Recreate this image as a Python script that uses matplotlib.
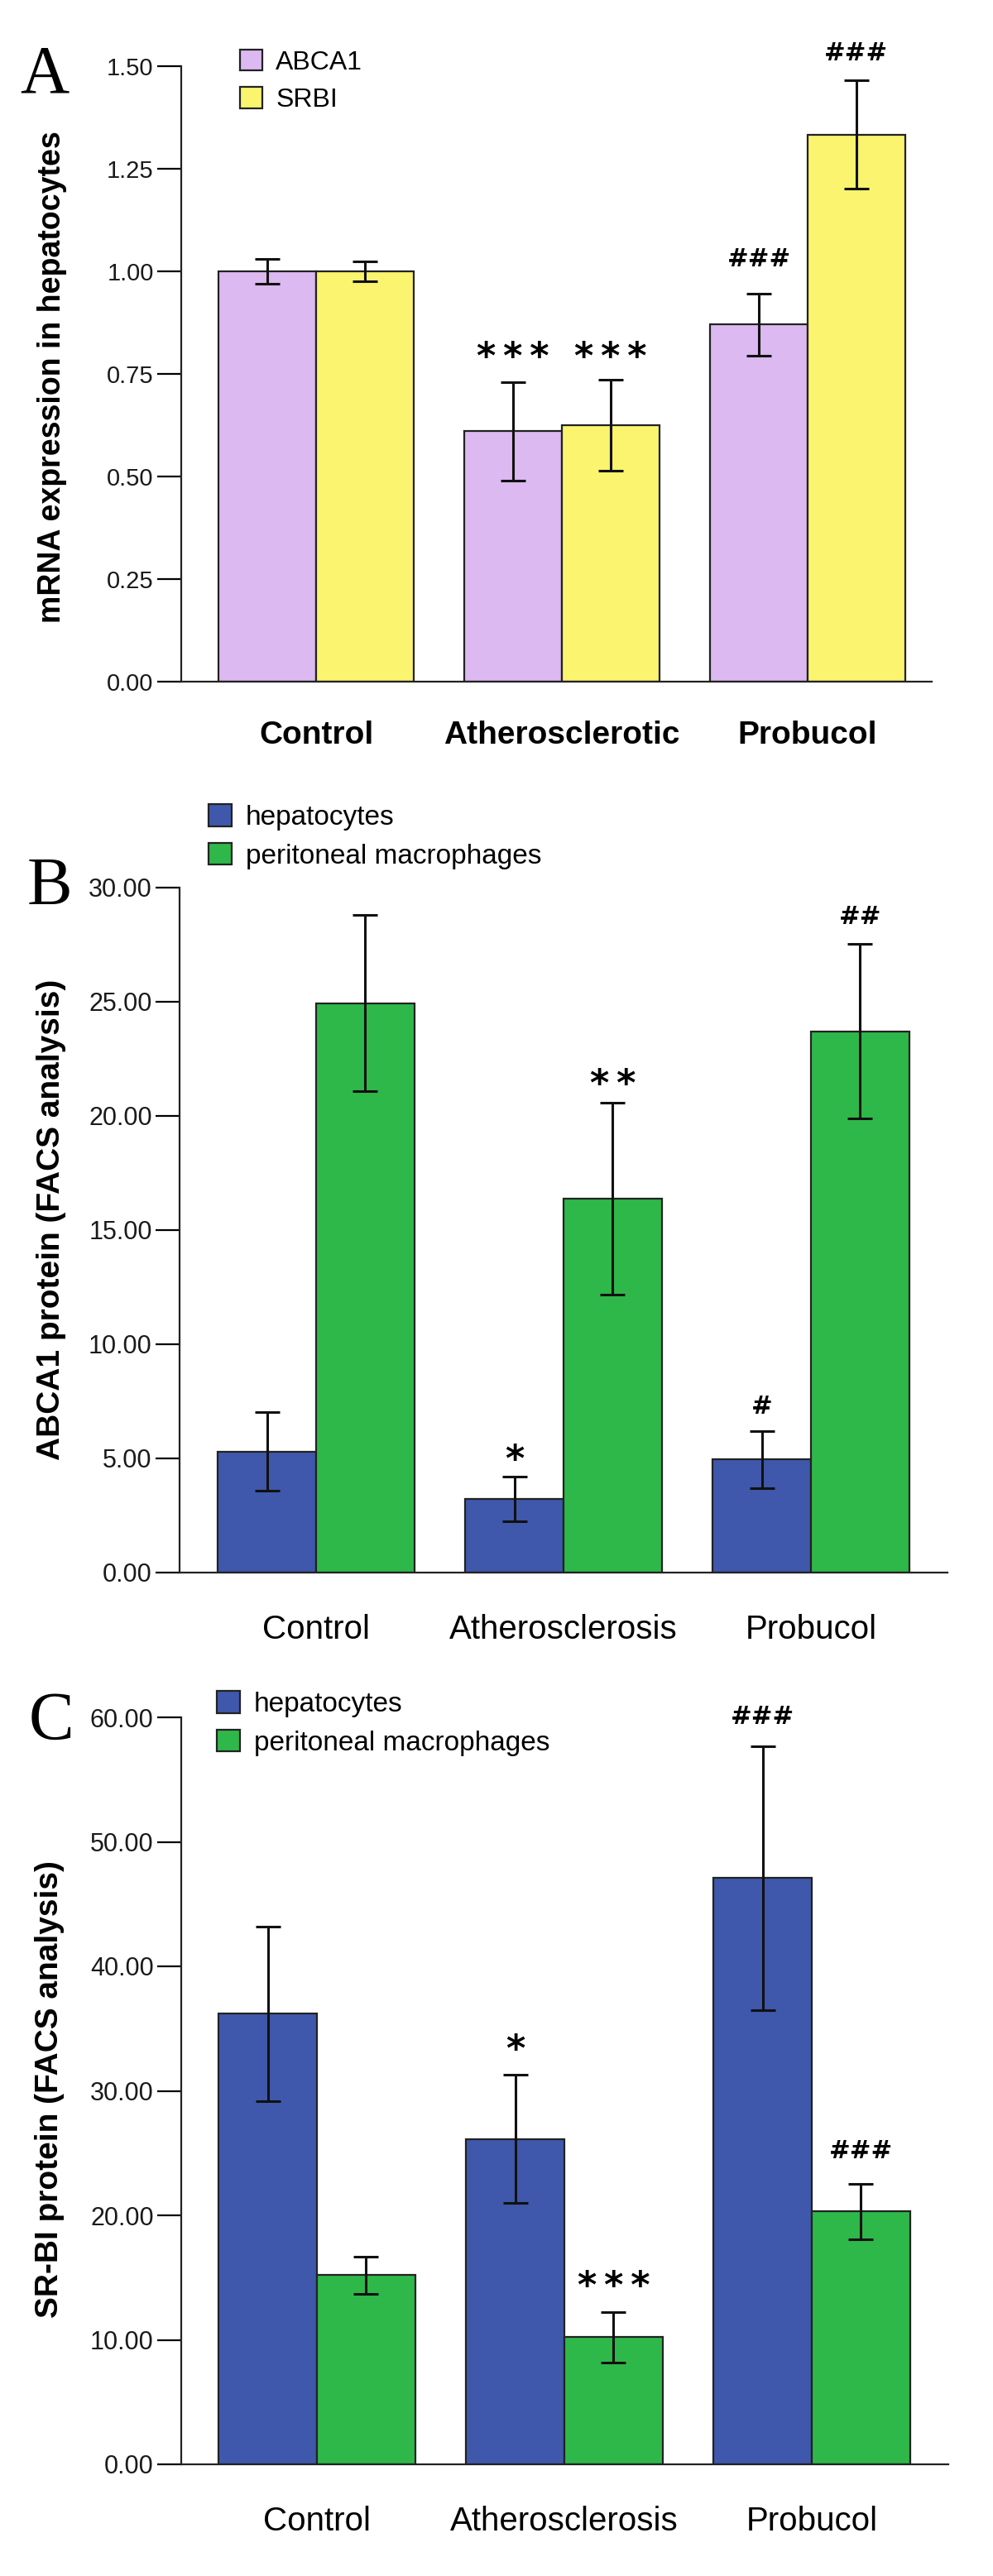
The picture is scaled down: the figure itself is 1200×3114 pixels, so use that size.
import matplotlib.pyplot as plt
from matplotlib.patches import Patch

# ---- data ----
groups_a = ['Control', 'Atherosclerotic', 'Probucol']
groups_bc = ['Control', 'Atherosclerosis', 'Probucol']

abca1_mrna = [1.00, 0.61, 0.87]
abca1_mrna_err = [0.03, 0.12, 0.075]
srbi_mrna = [1.00, 0.625, 1.333]
srbi_mrna_err = [0.025, 0.11, 0.132]

abca1_hep = [5.30, 3.24, 4.95]
abca1_hep_err = [1.72, 0.98, 1.24]
abca1_mac = [24.93, 16.37, 23.71]
abca1_mac_err = [3.86, 4.20, 3.81]

srbi_hep = [36.2, 26.13, 47.1]
srbi_hep_err = [7.0, 5.15, 10.6]
srbi_mac = [15.19, 10.2, 20.3]
srbi_mac_err = [1.49, 2.03, 2.2]

# significance marks (text, height) for left / right bar of each group
sig_a_left = ['', '***', '###']
sig_a_left_y = [0, 0.818, 1.034]
sig_a_right = ['', '***', '###']
sig_a_right_y = [0, 0.818, 1.536]
sig_b_left = ['', '*', '#']
sig_b_left_y = [0, 5.43, 7.37]
sig_b_right = ['', '**', '##']
sig_b_right_y = [0, 21.85, 28.8]
sig_c_left = ['', '*', '###']
sig_c_left_y = [0, 34.2, 60.2]
sig_c_right = ['', '***', '###']
sig_c_right_y = [0, 15.2, 25.3]

LAV = '#dcb9f0'
YEL = '#faf46e'
BLUE = '#3f58ac'
GREEN = '#2fb84a'

plt.rcParams['font.family'] = ['Liberation Sans', 'DejaVu Sans']

W, H = 1200, 3114
fig = plt.figure(figsize=(W / 100, H / 100), dpi=100)


def fx(px):
    return px / W


def fy(py):
    return 1 - py / H


def mark(ax, x, y, s):
    if not s:
        return
    if '*' in s:
        ax.annotate('\u2009'.join(s), (x, y), xytext=(0, -19), textcoords='offset points',
                    ha='center', va='baseline', fontsize=32, fontweight='bold',
                    family='DejaVu Sans', annotation_clip=False)
    else:
        ax.annotate(s, (x, y), xytext=(0, -8), textcoords='offset points',
                    ha='center', va='baseline', fontsize=22, fontweight='bold',
                    family='DejaVu Sans', annotation_clip=False)


def panel(rect, xlim, ylim, ticks, groups, left, left_err, right, right_err,
          c1, c2, sl, sly, sr, sry, xlab_bold, xpad, tick_fs):
    ax = fig.add_axes(rect)
    w = 0.397
    x = list(range(len(groups)))
    ekw = dict(elinewidth=2.2, capthick=2.2, ecolor='#111111')
    ax.bar([i - w / 2 for i in x], left, w, yerr=left_err, color=c1,
           edgecolor='#222222', linewidth=1.6, capsize=11, error_kw=ekw, zorder=2)
    ax.bar([i + w / 2 for i in x], right, w, yerr=right_err, color=c2,
           edgecolor='#222222', linewidth=1.6, capsize=11, error_kw=ekw, zorder=2)
    for i in x:
        mark(ax, i - w / 2, sly[i], sl[i])
        mark(ax, i + w / 2, sry[i], sr[i])
    ax.set_xlim(*xlim)
    ax.set_ylim(*ylim)
    ax.set_yticks(ticks)
    ax.set_yticklabels(['%.2f' % t for t in ticks], fontsize=tick_fs, color='#1a1a1a')
    ax.set_xticks(x)
    ax.set_xticklabels(groups, fontsize=28 if xlab_bold else 29,
                       fontweight='bold' if xlab_bold else 'normal')
    ax.tick_params(axis='x', length=0, pad=xpad)
    ax.tick_params(axis='y', length=21, width=1.6, pad=3, direction='out')
    for s in ['top', 'right']:
        ax.spines[s].set_visible(False)
    for s in ['left', 'bottom']:
        ax.spines[s].set_linewidth(1.6)
        ax.spines[s].set_color('#222222')
    return ax


def add_legend(ax, colors, labels, x, y, fs):
    ax.legend([Patch(facecolor=c, edgecolor='#222222', linewidth=1.6) for c in colors],
              labels, loc='upper left', bbox_to_anchor=(fx(x), fy(y)),
              bbox_transform=fig.transFigure, frameon=False, fontsize=fs,
              handlelength=0.85, handleheight=0.85, handletextpad=0.5,
              labelspacing=0.45, borderpad=0, borderaxespad=0)


# ---- A ----
axA = panel([fx(219), fy(824), fx(1126 - 219), 744 / H], (-0.549, 2.505), (0, 1.5),
            [0, 0.25, 0.5, 0.75, 1.0, 1.25, 1.5], groups_a,
            abca1_mrna, abca1_mrna_err, srbi_mrna, srbi_mrna_err, LAV, YEL,
            sig_a_left, sig_a_left_y, sig_a_right, sig_a_right_y, True, 34, 21)
add_legend(axA, [LAV, YEL], ['ABCA1', 'SRBI'], 290, 60, 23)
fig.text(fx(63), fy(456), 'mRNA expression in hepatocytes', rotation=90,
         ha='center', va='center', fontsize=27, fontweight='bold')
fig.text(fx(24), fy(111), 'A', family='Liberation Serif', fontsize=59,
         ha='left', va='baseline')

# ---- B ----
axB = panel([fx(217), fy(1901), fx(1145 - 217), 828 / H], (-0.552, 2.552), (0, 30),
            [0, 5, 10, 15, 20, 25, 30], groups_bc,
            abca1_hep, abca1_hep_err, abca1_mac, abca1_mac_err, BLUE, GREEN,
            sig_b_left, sig_b_left_y, sig_b_right, sig_b_right_y, False, 36, 22)
add_legend(axB, [BLUE, GREEN], ['hepatocytes', 'peritoneal macrophages'], 252, 972, 24)
fig.text(fx(62), fy(1474), 'ABCA1 protein (FACS analysis)', rotation=90,
         ha='center', va='center', fontsize=28, fontweight='bold')
fig.text(fx(33), fy(1093), 'B', family='Liberation Serif', fontsize=59,
         ha='left', va='baseline')

# ---- C ----
axC = panel([fx(219), fy(2979), fx(1146 - 219), 903 / H], (-0.548, 2.552), (0, 60),
            [0, 10, 20, 30, 40, 50, 60], groups_bc,
            srbi_hep, srbi_hep_err, srbi_mac, srbi_mac_err, BLUE, GREEN,
            sig_c_left, sig_c_left_y, sig_c_right, sig_c_right_y, False, 36, 22)
add_legend(axC, [BLUE, GREEN], ['hepatocytes', 'peritoneal macrophages'], 262, 2044, 24)
fig.text(fx(60), fy(2526), 'SR-BI protein (FACS analysis)', rotation=90,
         ha='center', va='center', fontsize=28, fontweight='bold')
fig.text(fx(35), fy(2102), 'C', family='Liberation Serif', fontsize=59,
         ha='left', va='baseline')

fig.savefig('out.png', dpi=100, facecolor='white')
